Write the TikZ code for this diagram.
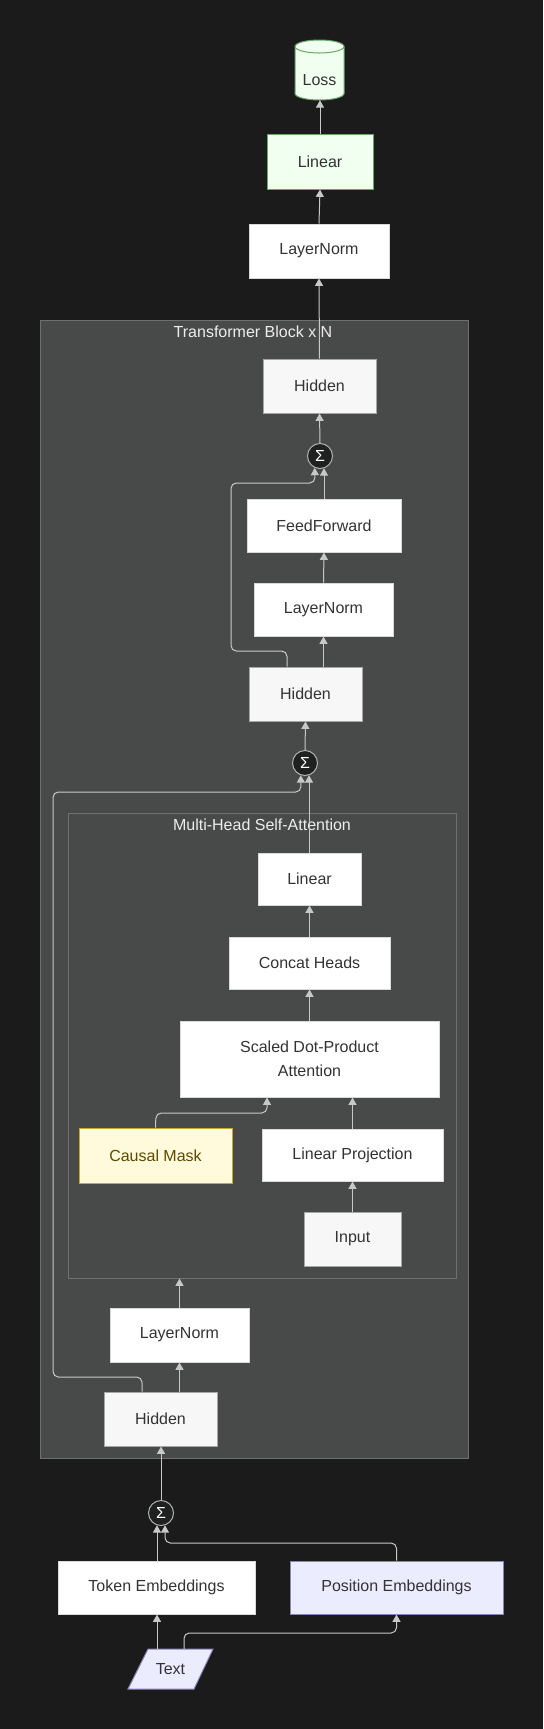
\documentclass[tikz,border=0pt]{standalone}
\usepackage{fontspec}
\setmainfont{Liberation Sans}
\usetikzlibrary{arrows.meta}
\definecolor{bg}{HTML}{1B1B1B}
\definecolor{blockfill}{HTML}{484A49}
\definecolor{blockline}{HTML}{6E706F}
\definecolor{linec}{HTML}{C8C8C8}
\definecolor{txt}{HTML}{333333}
\definecolor{greenfill}{HTML}{F0FFF0}
\definecolor{greenline}{HTML}{6AA66A}
\definecolor{maskfill}{HTML}{FFFADC}
\definecolor{maskline}{HTML}{C9A92A}
\definecolor{masktxt}{HTML}{5C4A00}
\definecolor{lavfill}{HTML}{ECECFF}
\definecolor{lavline}{HTML}{8A84B8}
\definecolor{sigfill}{HTML}{1F2020}
\tikzset{
  sz/.style 2 args={minimum width=#1*0.75pt, minimum height=#2*0.75pt},
  plainbox/.style={draw=white!85!black, fill=white, line width=0.75pt, text=txt},
  hidbox/.style={draw=black!35, fill=black!3, line width=0.75pt, text=txt},
  greenbox/.style={draw=greenline, fill=greenfill, line width=0.75pt, text=txt},
  maskbox/.style={draw=maskline, fill=maskfill, line width=0.75pt, text=masktxt},
  lavbox/.style={draw=lavline, fill=lavfill, line width=0.75pt, text=txt},
  sumnode/.style={circle, draw=black!30, fill=sigfill, line width=0.75pt, text=white, minimum size=25*0.75pt},
  group/.style={draw=blockline, fill=blockfill, line width=0.75pt},
  grouptitle/.style={text=white!93!black},
  conn/.style={draw=linec, line width=0.75pt, rounded corners=4pt, -{Triangle[width=6pt,length=5.5pt]}},
}
\begin{document}
\begin{tikzpicture}[x=0.75pt,y=-0.75pt, every node/.style={font=\fontsize{12}{18}\selectfont, inner sep=0pt}]
\fill[bg] (0,0) rectangle (543,1729);
\useasboundingbox (0,0) rectangle (543,1729);

% groups
\node[group, sz={428}{1138}] (blk) at (254,889) {};
\node[grouptitle] (blktitle) at (253,332) {Transformer Block x N};
\node[group, sz={388}{465}] (mhsa) at (262,1045.5) {};
\node[grouptitle] (mhsatitle) at (262,825) {Multi-Head Self-Attention};

% top nodes
\node[sz={49}{60}] (loss) at (319.5,70) {};
\fill[greenfill] (295,46.5) -- (295,93.5) arc[start angle=180,end angle=360,x radius=18.375pt,y radius=4.875pt] -- (344,46.5) arc[start angle=0,end angle=180,x radius=18.375pt,y radius=4.875pt] -- cycle;
\draw[greenline, line width=0.75pt] (295,46.5) -- (295,93.5) arc[start angle=180,end angle=360,x radius=18.375pt,y radius=4.875pt] -- (344,46.5) arc[start angle=0,end angle=180,x radius=18.375pt,y radius=4.875pt];
\draw[greenline, line width=0.75pt] (295,46.5) arc[start angle=180,end angle=360,x radius=18.375pt,y radius=4.875pt];
\node[text=txt] (losstxt) at (319.5,80) {Loss};

\node[greenbox, sz={106}{55}] (linout) at (320,161.5) {Linear};
\node[plainbox, sz={140}{54}] (lnout) at (319,251) {LayerNorm};

% transformer block
\node[hidbox, sz={113}{54}] (hidT) at (319.5,386) {Hidden};
\node[sumnode] (sigT) at (320,456) {Σ};
\node[plainbox, sz={154}{53}] (ff) at (324,525.5) {FeedForward};
\node[plainbox, sz={139}{53}] (lnM) at (323.5,609.5) {LayerNorm};
\node[hidbox, sz={113}{54}] (hidM) at (305.5,694) {Hidden};
\node[sumnode] (sigM) at (305,763) {Σ};

% attention
\node[plainbox, sz={103}{52}] (linA) at (309.5,879) {Linear};
\node[plainbox, sz={161}{52}] (concat) at (309.5,963) {Concat Heads};
\node[plainbox, sz={259}{76}, align=center] (sdpa) at (309.5,1059) {Scaled Dot-Product\\Attention};
\node[maskbox, sz={153}{55}] (mask) at (155.5,1155.5) {Causal Mask};
\node[plainbox, sz={181}{52}] (proj) at (352.5,1155) {Linear Projection};
\node[hidbox, sz={97}{54}] (inp) at (352.5,1239) {Input};

\node[plainbox, sz={139}{54}] (lnB) at (179.5,1335) {LayerNorm};
\node[hidbox, sz={113}{54}] (hidB) at (160.5,1419) {Hidden};

% bottom
\node[sumnode] (sigB) at (161,1513) {Σ};
\node[plainbox, sz={197}{53}] (tok) at (156.5,1587.5) {Token Embeddings};
\node[lavbox, sz={213}{53}] (pos) at (396.5,1587.5) {Position Embeddings};
\node[sz={85}{40}] (text) at (170.5,1669) {};
\filldraw[lavline, fill=lavfill, line width=0.75pt] (148,1649) -- (213,1649) -- (194,1689) -- (128,1689) -- cycle;
\node[text=txt] (texttxt) at (170.5,1669) {Text};

% connectors
\draw[conn] (linout.north) -- (linout.north |- loss.south);
\draw[conn] (lnout.north) -- (linout.south);
\draw[conn] (hidT.north) -- (lnout.south);
\draw[conn] (sigT.north) -- (hidT.south);
\draw[conn] (ff.north) -- (ff.north |- sigT.289);
\draw[conn] (287,0 |- hidM.north) -- (287,651) -- (231,651) -- (231,483) -- (315,483) -- (sigT.246);
\draw[conn] (lnM.north) -- (ff.south);
\draw[conn] (323.5,0 |- hidM.north) -- (lnM.south);
\draw[conn] (sigM.north) -- (hidM.south);
\draw[conn] (309,0 |- linA.north) -- (309,0 |- sigM.289);
\draw[conn] (142,0 |- hidB.north) -- (142,1377) -- (53,1377) -- (53,792) -- (301,792) -- (sigM.251);
\draw[conn] (concat.north) -- (linA.south);
\draw[conn] (sdpa.north) -- (concat.south);
\draw[conn] (mask.north) -- (156,1113) -- (267,1113) -- (267,0 |- sdpa.south);
\draw[conn] (proj.north) -- (sdpa.south -| proj.north);
\draw[conn] (inp.north) -- (proj.south);
\draw[conn] (lnB.north) -- (lnB.north |- mhsa.south);
\draw[conn] (lnB.south |- hidB.north) -- (lnB.south);
\draw[conn] (sigB.north) -- (hidB.south -| sigB.north);
\draw[conn] (157,0 |- tok.north) -- (157,0 |- sigB.251);
\draw[conn] (pos.north) -- (396.5,1543) -- (165,1543) -- (165,0 |- sigB.289);
\draw[conn] (157,0 |- text.north) -- (157,0 |- tok.south);
\draw[conn] (184,0 |- text.north) -- (184,1633) -- (396.5,1633) -- (pos.south);
\end{tikzpicture}
\end{document}
